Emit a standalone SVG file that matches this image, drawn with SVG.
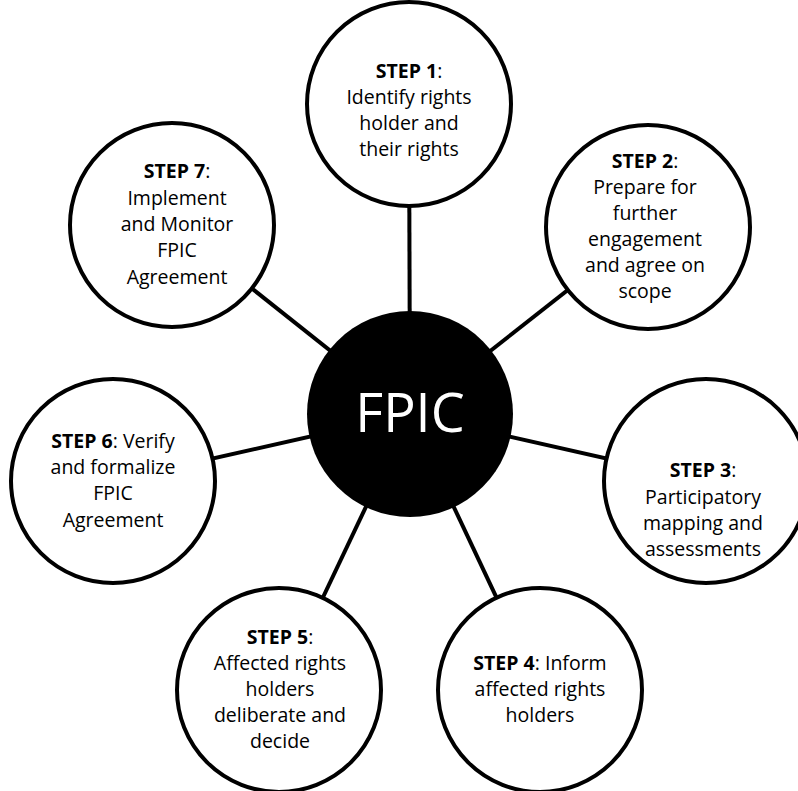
<svg xmlns="http://www.w3.org/2000/svg" width="798" height="791" viewBox="0 0 798 791">
<style>
.node{fill:#fff;stroke:#000;stroke-width:4}
.conn line{stroke:#000;stroke-width:4}
text{font-family:"Open Sans","Noto Sans",sans-serif;font-size:19.5px;fill:#000;text-anchor:middle}
.b{font-weight:bold}
</style>
<rect width="798" height="791" fill="#fff"/>
<g id="connectors" class="conn">
<line x1="410" y1="414" x2="409" y2="106"/>
<line x1="410" y1="414" x2="648" y2="227"/>
<line x1="410" y1="414" x2="706" y2="481"/>
<line x1="410" y1="414" x2="540" y2="690"/>
<line x1="410" y1="414" x2="279" y2="690"/>
<line x1="410" y1="414" x2="113" y2="481"/>
<line x1="410" y1="414" x2="172" y2="225"/>
</g>
<g id="step1"><circle class="node" cx="409" cy="104" r="102"/>
<text x="409" y="78"><tspan class="b">STEP 1</tspan>:</text>
<text x="409" y="104">Identify rights</text>
<text x="409" y="130">holder and</text>
<text x="409" y="156">their rights</text></g>
<g id="step2"><circle class="node" cx="648" cy="227" r="102"/>
<text x="645" y="168"><tspan class="b">STEP 2</tspan>:</text>
<text x="645" y="194">Prepare for</text>
<text x="645" y="220">further</text>
<text x="645" y="246">engagement</text>
<text x="645" y="272">and agree on</text>
<text x="645" y="298">scope</text></g>
<g id="step3"><circle class="node" cx="706" cy="481" r="102"/>
<text x="703" y="477"><tspan class="b">STEP 3</tspan>:</text>
<text x="703" y="504">Participatory</text>
<text x="703" y="530">mapping and</text>
<text x="703" y="556">assessments</text></g>
<g id="step4"><circle class="node" cx="540" cy="690" r="102"/>
<text x="540" y="670"><tspan class="b">STEP 4</tspan>: Inform</text>
<text x="540" y="696">affected rights</text>
<text x="540" y="722">holders</text></g>
<g id="step5"><circle class="node" cx="279" cy="690" r="102"/>
<text x="280" y="644"><tspan class="b">STEP 5</tspan>:</text>
<text x="280" y="670">Affected rights</text>
<text x="280" y="696">holders</text>
<text x="280" y="722">deliberate and</text>
<text x="280" y="748">decide</text></g>
<g id="step6"><circle class="node" cx="113" cy="481" r="102"/>
<text x="113" y="448"><tspan class="b">STEP 6</tspan>: Verify</text>
<text x="113" y="474">and formalize</text>
<text x="113" y="500">FPIC</text>
<text x="113" y="527">Agreement</text></g>
<g id="step7"><circle class="node" cx="172" cy="225" r="102"/>
<text x="177" y="178"><tspan class="b">STEP 7</tspan>:</text>
<text x="177" y="205">Implement</text>
<text x="177" y="231">and Monitor</text>
<text x="177" y="257">FPIC</text>
<text x="177" y="284">Agreement</text></g>
<g id="fpic"><circle cx="410" cy="414" r="103" fill="#000"/>
<text x="410" y="432" style="font-size:54px;fill:#fff">FPIC</text></g>
</svg>
